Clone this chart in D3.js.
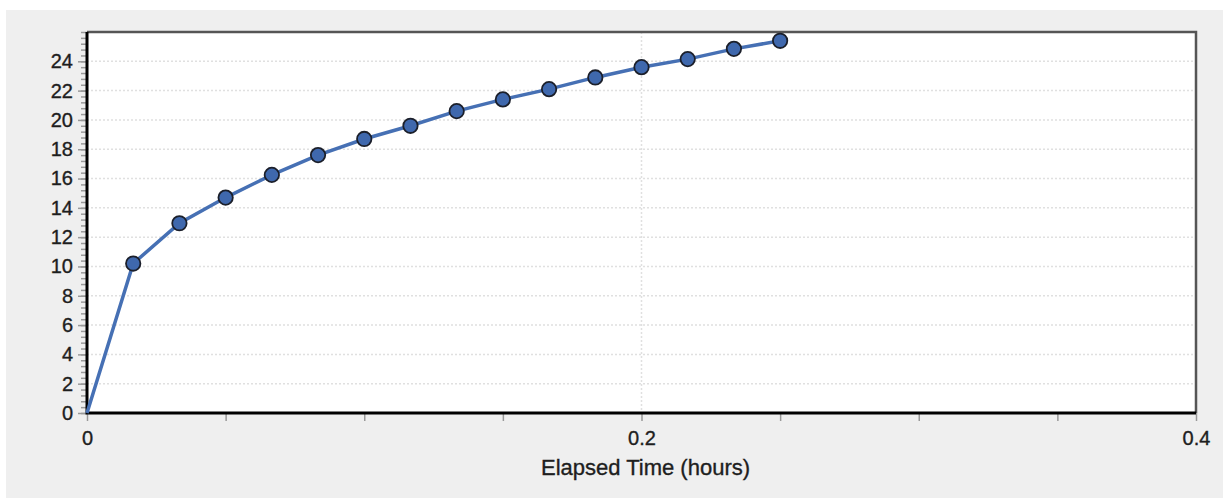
<!DOCTYPE html>
<html>
<head>
<meta charset="utf-8">
<script src="https://cdn.jsdelivr.net/npm/d3@7"></script>
<style>
  body { margin: 0; background: #ffffff; }
  text { font-family: "Liberation Sans", Arial, sans-serif; fill: #1e1e1e; stroke: #1e1e1e; stroke-width: 0.35px; }
</style>
</head>
<body>
<div id="chart"></div>
<script>
// Elapsed time in hours (one reading per minute) and the measured values.
const elapsedHours = [0, 1/60, 2/60, 3/60, 4/60, 5/60, 6/60, 7/60, 8/60, 9/60, 10/60, 11/60, 12/60, 13/60, 14/60, 15/60];
const readings = [0, 10.2, 12.95, 14.7, 16.25, 17.6, 18.7, 19.6, 20.6, 21.4, 22.1, 22.9, 23.6, 24.15, 24.85, 25.4];
const xTickValues = [0, 0.05, 0.1, 0.15, 0.2, 0.25, 0.3, 0.35, 0.4];
const xTickLabels = ["0", "", "", "", "0.2", "", "", "", "0.4"];
const yTickValues = [0, 2, 4, 6, 8, 10, 12, 14, 16, 18, 20, 22, 24];
const xTitle = "Elapsed Time (hours)";

const width = 1223;
const height = 498;
const margin = { top: 32, right: 27, bottom: 85, left: 87 };

const svg = d3.select("#chart")
    .append("svg")
    .attr("width", width)
    .attr("height", height);

// Grey panel behind the chart.
svg.append("rect")
    .attr("x", 6)
    .attr("y", 10)
    .attr("width", width - 6)
    .attr("height", height - 10)
    .attr("fill", "#efefef");

const xScale = d3.scaleLinear()
    .domain([0, 0.4])
    .range([margin.left, width - margin.right]);

const yScale = d3.scaleLinear()
    .domain([0, 26])
    .range([height - margin.bottom, margin.top]);

// White plot area.
svg.append("rect")
    .attr("x", margin.left)
    .attr("y", margin.top)
    .attr("width", width - margin.left - margin.right)
    .attr("height", height - margin.top - margin.bottom)
    .attr("fill", "#ffffff");

// Dotted gridlines.
svg.append("g")
    .selectAll("line")
    .data(yTickValues.slice(1))
    .join("line")
    .attr("x1", margin.left)
    .attr("x2", width - margin.right)
    .attr("y1", d => yScale(d))
    .attr("y2", d => yScale(d))
    .attr("stroke", "#e0e0e0")
    .attr("stroke-width", 1.5)
    .attr("stroke-dasharray", "2,2");

svg.append("line")
    .attr("x1", xScale(0.2))
    .attr("x2", xScale(0.2))
    .attr("y1", margin.top)
    .attr("y2", height - margin.bottom)
    .attr("stroke", "#e0e0e0")
    .attr("stroke-width", 1.5)
    .attr("stroke-dasharray", "2,2");

// Minor ticks on the y-axis.
svg.append("g")
    .attr("transform", `translate(${margin.left}, 0)`)
    .call(d3.axisLeft(yScale).tickValues(d3.range(0, 26.01, 0.4)).tickSize(6).tickFormat(""))
    .call(g => g.select(".domain").remove())
    .selectAll("line")
    .attr("stroke", "#999")
    .attr("stroke-width", 1.5);

// Major y-axis ticks and labels.
svg.append("g")
    .attr("transform", `translate(${margin.left}, 0)`)
    .call(d3.axisLeft(yScale).tickValues(yTickValues).tickSize(9).tickPadding(5).tickFormat(d3.format("d")))
    .call(g => g.select(".domain").remove())
    .call(g => g.selectAll("line").attr("stroke", "#999").attr("stroke-width", 1.5))
    .selectAll("text")
    .style("font-size", "20px");

// x-axis ticks and labels.
svg.append("g")
    .attr("transform", `translate(0, ${height - margin.bottom})`)
    .call(d3.axisBottom(xScale).tickValues(xTickValues).tickSize(8).tickPadding(10)
        .tickFormat((d, i) => xTickLabels[i]))
    .call(g => g.select(".domain").remove())
    .call(g => g.selectAll("line").attr("stroke", "#999").attr("stroke-width", 1.5))
    .selectAll("text")
    .style("font-size", "20px");

// Top and right frame.
svg.append("path")
    .attr("d", `M${margin.left},${margin.top}H${width - margin.right}V${height - margin.bottom}`)
    .attr("fill", "none")
    .attr("stroke", "#555")
    .attr("stroke-width", 2.5);

// Left and bottom axis lines.
svg.append("path")
    .attr("d", `M${margin.left},${margin.top}V${height - margin.bottom}H${width - margin.right}`)
    .attr("fill", "none")
    .attr("stroke", "#000")
    .attr("stroke-width", 3);

// Data line.
const line = d3.line()
    .x((d, i) => xScale(elapsedHours[i]))
    .y(d => yScale(d));

svg.append("path")
    .datum(readings)
    .attr("d", line)
    .attr("fill", "none")
    .attr("stroke", "#4670b4")
    .attr("stroke-width", 3.5);

// Markers (none at the origin).
svg.append("g")
    .selectAll("circle")
    .data(readings.slice(1))
    .join("circle")
    .attr("cx", (d, i) => xScale(elapsedHours[i + 1]))
    .attr("cy", d => yScale(d))
    .attr("r", 7.2)
    .attr("fill", "#3f68ad")
    .attr("stroke", "#1b1f2a")
    .attr("stroke-width", 1.8);

// x-axis title.
svg.append("text")
    .attr("x", (margin.left + width - margin.right) / 2 + 4)
    .attr("y", 475)
    .attr("text-anchor", "middle")
    .style("font-size", "22px")
    .text(xTitle);
</script>
</body>
</html>
